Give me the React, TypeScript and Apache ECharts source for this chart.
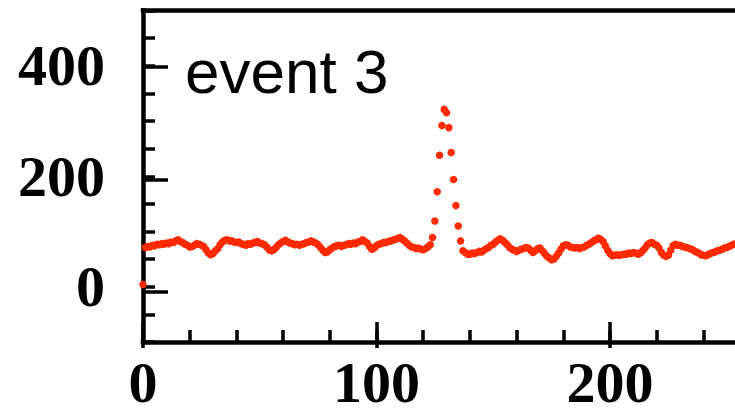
import React, { useEffect, useRef } from "react";
import * as echarts from "echarts";

// Sample index (x) and the recorded signal for "event 3"
const eventValues: number[] = [
  4,
  71, 73, 72, 75, 74, 77, 76, 78, 77, 79,
  78, 81, 80, 83, 85, 82, 80, 77, 75, 72,
  73, 75, 78, 77, 75, 73, 67, 61, 58, 60,
  65, 69, 76, 81, 84, 85, 83, 83, 81, 80,
  81, 78, 77, 75, 78, 77, 79, 80, 82, 79,
  78, 76, 72, 67, 65, 67, 71, 76, 79, 82,
  84, 81, 79, 78, 76, 77, 75, 77, 78, 80,
  81, 83, 81, 79, 76, 71, 66, 62, 63, 67,
  70, 73, 74, 75, 73, 75, 76, 78, 77, 79,
  78, 81, 82, 85, 82, 79, 73, 68, 70, 74,
  77, 78, 80, 80, 82, 83, 84, 86, 87, 89,
  86, 83, 79, 75, 72, 71, 69, 70, 68, 67, 69, 72, 76,
  89, 119, 172, 238, 292, 321, 315, 288, 243, 194, 147, 110, 83,
  65, 62, 59, 59, 61, 60, 62, 64, 63, 66, 69, 71, 75, 77, 81, 84, 87,
  84, 80, 76, 71, 68, 66, 64, 66, 68, 69, 71, 70, 66, 62, 65, 69, 70,
  65, 60, 55, 52, 49, 50, 55, 61, 68, 74, 76, 75, 72, 71, 70, 71, 69, 71, 72, 75,
  77, 80, 83, 85, 88, 86, 82, 74, 66, 60, 56, 57, 58, 57,
  58, 59, 59, 61, 60, 62, 61, 59, 61, 65, 70, 76, 79, 80, 77, 75,
  70, 62, 57, 55, 57, 66, 74, 77, 75, 75, 73, 72, 71, 69, 68, 65, 63, 61, 58, 57,
  56, 58, 60, 62, 63, 65, 66, 68, 70, 71, 73, 75, 77, 78, 79,
];
const sampleIndex: number[] = eventValues.map((_, i) => i);

const xMajorTicks = [0, 100, 200];
const yMajorTicks = [0, 200, 400];
const annotation = "event 3";

const X_MIN = 0;
const X_MAX = 300;
const Y_MIN = -100;
const Y_MAX = 500;

export default function App() {
  const ref = useRef<HTMLDivElement>(null);

  useEffect(() => {
    if (!ref.current) return;
    const chart = echarts.init(ref.current, undefined, { renderer: "svg" });

    // The plot continues past the right edge of the 735px view (as in the reference)
    const gridRect = { left: 143, top: 10.5, right: 0.5, bottom: 63 };
    const labelFont = {
      color: "#000",
      fontFamily: '"Liberation Serif", "Times New Roman", serif',
      fontWeight: "bold" as const,
      fontSize: 58,
    };
    const spine = { show: true, lineStyle: { color: "#000", width: 4.5, cap: "square" as const } };

    chart.setOption({
      animation: false,
      backgroundColor: "#fff",
      grid: [{ ...gridRect }, { ...gridRect }],
      xAxis: [
        {
          type: "value",
          gridIndex: 0,
          position: "bottom",
          min: X_MIN,
          max: X_MAX,
          interval: 20,
          axisLine: { ...spine, onZero: false },
          axisTick: { show: true, inside: true, length: 12, lineStyle: { color: "#000", width: 3.5 } },
          axisLabel: {
            ...labelFont,
            lineHeight: 40,
            margin: 20,
            customValues: xMajorTicks,
            formatter: (v: number) => (xMajorTicks.includes(v) ? String(v) : ""),
          },
          splitLine: { show: false },
        },
        {
          type: "value",
          gridIndex: 0,
          position: "top",
          min: X_MIN,
          max: X_MAX,
          axisLine: { ...spine, onZero: false },
          axisTick: { show: false },
          axisLabel: { show: false },
          splitLine: { show: false },
        },
        {
          type: "value",
          gridIndex: 1,
          position: "bottom",
          min: X_MIN,
          max: X_MAX,
          axisLine: { show: false, onZero: false },
          axisTick: {
            show: true,
            inside: true,
            length: 26,
            customValues: xMajorTicks,
            lineStyle: { color: "#000", width: 3.5 },
          },
          axisLabel: { show: false },
          splitLine: { show: false },
        },
      ],
      yAxis: [
        {
          type: "value",
          gridIndex: 0,
          position: "left",
          min: Y_MIN,
          max: Y_MAX,
          interval: 50,
          axisLine: { ...spine, onZero: false },
          axisTick: { show: true, inside: true, length: 12, lineStyle: { color: "#000", width: 3.5 } },
          axisLabel: {
            ...labelFont,
            margin: 38,
            customValues: yMajorTicks,
            formatter: (v: number) => (yMajorTicks.includes(v) ? String(v) : ""),
          },
          splitLine: { show: false },
        },
        {
          type: "value",
          gridIndex: 1,
          position: "left",
          min: Y_MIN,
          max: Y_MAX,
          axisLine: { show: false, onZero: false },
          axisTick: {
            show: true,
            inside: true,
            length: 25,
            customValues: yMajorTicks,
            lineStyle: { color: "#000", width: 3.5 },
          },
          axisLabel: { show: false },
          splitLine: { show: false },
        },
      ],
      series: [
        {
          type: "scatter",
          xAxisIndex: 0,
          yAxisIndex: 0,
          symbol: "circle",
          symbolSize: 7.5,
          itemStyle: { color: "#ff2a00", opacity: 1 },
          clip: true,
          data: sampleIndex.map((x, i) => [x, eventValues[i]]),
        },
      ],
      graphic: [
        {
          type: "text",
          x: 185,
          y: 71,
          style: {
            text: annotation,
            font: '62px "Liberation Sans", Arial, sans-serif',
            fill: "#000",
            textAlign: "left",
            textVerticalAlign: "middle",
          },
        },
      ],
    });

    return () => chart.dispose();
  }, []);

  return (
    <div
      ref={ref}
      style={{ position: "fixed", left: 0, top: 0, width: 844, height: 411 }}
    />
  );
}
